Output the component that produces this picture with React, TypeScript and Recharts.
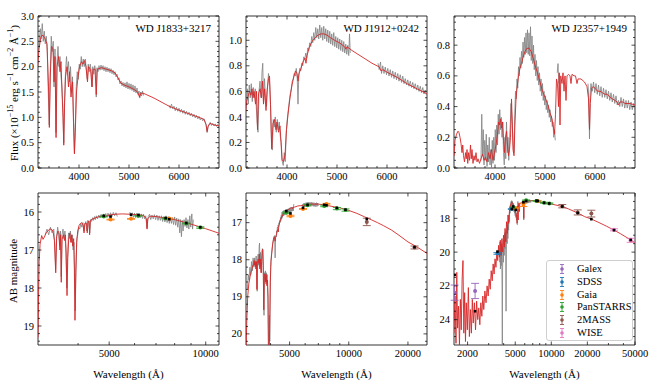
import React from "react";
import { ComposedChart, Line, Scatter, ErrorBar, XAxis, YAxis, ReferenceArea } from "recharts";

type Pt = [number, number | null];
type Phot = [string, number, number, number, number]; // survey, wavelength, mag, error, model mag

const FONT = '"Liberation Serif", "DejaVu Serif", serif';
const RED = "#d62728";
const GREY = "#808080";

const surveyNames = ["Galex", "SDSS", "Gaia", "PanSTARRS", "2MASS", "WISE"];
const surveyColors = ["#9467bd", "#1f77b4", "#ff7f0e", "#2ca02c", "#8c564b", "#e377c2"];

// ---- WD J1833+3217 ----
const j1833FluxModel: Pt[] = [
  [3160, 1.85], [3200, 2.35], [3240, 2.6], [3280, 2.62], [3320, 2.55], [3360, 2.45], [3390, 1.6], [3407, 0.8],
  [3425, 1.8], [3450, 2.4], [3480, 2.35], [3500, 1.7], [3520, 2.2], [3541, 0.6], [3560, 2.0], [3590, 2.2],
  [3620, 1.9], [3640, 2.1], [3660, 1.5], [3680, 1.0], [3695, 0.45], [3710, 1.2], [3730, 1.8], [3760, 2.0],
  [3790, 1.6], [3810, 1.9], [3840, 1.4], [3870, 1.7], [3890, 0.9], [3909, 0.28], [3925, 0.7], [3950, 1.5],
  [3980, 1.8], [4010, 2.0], [4050, 2.1], [4080, 2.05], [4110, 2.12], [4140, 2.0], [4170, 1.7], [4190, 2.0],
  [4230, 1.95], [4260, 1.6], [4280, 1.95], [4320, 1.95], [4345, 1.45], [4365, 1.95], [4450, 1.98], [4550, 1.95],
  [4650, 1.92], [4720, 1.88], [4780, 1.78], [4830, 1.68], [4900, 1.64], [5000, 1.6], [5100, 1.55], [5170, 1.5],
  [5210, 1.4], [5240, 1.48], [5300, 1.47], [5500, 1.38], [5800, 1.22], [6000, 1.14], [6200, 1.07], [6400, 1.0],
  [6500, 0.96], [6540, 0.86], [6562, 0.72], [6580, 0.82], [6620, 0.88], [6700, 0.85], [6800, 0.83],
];
const j1833FluxObs: Pt[] = [
  [3165, 1.9], [3185, 2.3], [3205, 2.5], [3225, 2.75], [3245, 2.55], [3265, 2.85], [3285, 2.5], [3305, 2.7],
  [3325, 2.45], [3345, 2.6], [3365, 2.3], [3385, 1.5], [3405, 0.85], [3425, 1.9], [3445, 2.6], [3465, 2.3],
  [3485, 2.5], [3500, 1.6], [3520, 2.35], [3540, 0.7], [3560, 2.1], [3580, 2.4], [3600, 2.0], [3620, 2.2],
  [3640, 1.8], [3660, 1.6], [3680, 1.1], [3695, 0.5], [3710, 1.3], [3730, 1.9], [3750, 2.2], [3770, 1.9],
  [3790, 2.1], [3810, 1.7], [3830, 2.0], [3850, 1.5], [3870, 1.8], [3890, 1.0], [3908, 0.3], [3925, 0.8],
  [3945, 1.6], [3965, 1.9], [3985, 1.75], [4005, 2.05], [4025, 1.95], [4045, 2.2], [4065, 2.0], [4085, 2.15],
  [4105, 2.0], [4125, 2.15], [4145, 1.95], [4165, 1.75], [4185, 2.05], [4205, 1.9], [4225, 2.05], [4245, 1.9],
  [4260, 1.6], [4275, 2.0], [4295, 1.85], [4315, 2.02], [4335, 1.9], [4345, 1.4], [4360, 1.98], [4380, 1.9],
  [4400, 2.02], [4420, 1.93], [4440, 2.03], [4460, 1.94], [4480, 2.02], [4500, 1.92], [4520, 2.0], [4540, 1.9],
  [4560, 1.99], [4580, 1.9], [4600, 1.97], [4620, 1.88], [4640, 1.96], [4660, 1.86], [4680, 1.93], [4700, 1.84],
  [4720, 1.9], [4740, 1.8], [4760, 1.85], [4780, 1.74], [4800, 1.78], [4820, 1.66], [4840, 1.72], [4860, 1.62],
  [4880, 1.69], [4900, 1.6], [4920, 1.68], [4940, 1.58], [4960, 1.7], [4980, 1.56], [5000, 1.67], [5020, 1.55],
  [5040, 1.66], [5060, 1.53], [5080, 1.64], [5100, 1.5], [5120, 1.62], [5140, 1.48], [5160, 1.58], [5180, 1.45],
  [5200, 1.52], [5215, 1.38], [5230, 1.5], [5250, 1.42], [5270, 1.52], [5290, 1.43], [5500, null],
  [5800, 1.24], [5825, 1.18], [5850, 1.26], [5875, 1.17], [5900, 1.22], [5925, 1.13], [5950, 1.2], [5975, 1.12],
  [6000, 1.18], [6025, 1.1], [6050, 1.16], [6075, 1.08], [6100, 1.14], [6125, 1.06], [6150, 1.12], [6175, 1.05],
  [6200, 1.1], [6225, 1.03], [6250, 1.08], [6275, 1.01], [6300, 1.06], [6325, 0.99], [6350, 1.04], [6375, 0.97],
  [6400, 1.02], [6425, 0.95], [6450, 0.99], [6475, 0.93], [6500, 0.97], [6525, 0.9], [6545, 0.84], [6562, 0.7],
  [6580, 0.8], [6600, 0.86], [6625, 0.9], [6650, 0.84], [6675, 0.88], [6700, 0.83], [6725, 0.87], [6750, 0.82],
  [6775, 0.86], [6800, 0.82],
];
const j1833MagModel: Pt[] = [
  [3000, 19.3], [3012, 18.2], [3025, 17.3], [3045, 16.85], [3080, 16.62], [3110, 16.72], [3140, 16.66], [3180, 16.55],
  [3220, 16.5], [3260, 16.45], [3300, 16.45], [3340, 16.5], [3375, 16.75], [3407, 17.6], [3430, 16.65], [3460, 16.5],
  [3490, 16.55], [3510, 17.0], [3528, 16.6], [3545, 17.85], [3565, 16.72], [3600, 16.6], [3630, 16.75], [3650, 16.6],
  [3672, 17.05], [3695, 18.2], [3715, 17.2], [3740, 16.7], [3770, 16.55], [3800, 16.8], [3822, 16.6], [3850, 16.9],
  [3875, 16.7], [3895, 17.5], [3912, 18.85], [3935, 17.6], [3960, 16.8], [3990, 16.5], [4030, 16.35], [4070, 16.3],
  [4110, 16.28], [4150, 16.35], [4175, 16.55], [4200, 16.3], [4250, 16.3], [4272, 16.55], [4300, 16.25], [4330, 16.24],
  [4345, 16.6], [4365, 16.22], [4450, 16.18], [4550, 16.15], [4650, 16.12], [4780, 16.1], [4860, 16.12], [5000, 16.08],
  [5200, 16.06], [5500, 16.05], [5800, 16.06], [6100, 16.07], [6400, 16.09], [6530, 16.18], [6563, 16.45], [6595, 16.18],
  [6700, 16.11], [7000, 16.12], [7500, 16.16], [8000, 16.2], [8500, 16.26], [9000, 16.32], [9500, 16.38], [10000, 16.44],
  [10500, 16.5], [11000, 16.56],
];
const j1833MagObs: Pt[] = [
  [3160, 16.6], [3200, 16.45], [3240, 16.6], [3280, 16.4], [3320, 16.55], [3360, 16.45], [3385, 16.9], [3405, 17.5],
  [3425, 16.7], [3455, 16.4], [3480, 16.6], [3505, 16.9], [3525, 16.5], [3545, 17.7], [3565, 16.6], [3590, 16.45],
  [3615, 16.7], [3640, 16.5], [3665, 17.1], [3690, 18.0], [3710, 17.2], [3735, 16.55], [3760, 16.7], [3785, 16.5],
  [3810, 16.8], [3835, 16.6], [3860, 17.0], [3885, 16.8], [3905, 17.8], [3920, 18.6], [3940, 17.5], [3965, 16.7],
  [3990, 16.6], [4020, 16.4], [4050, 16.45], [4080, 16.3], [4110, 16.4], [4140, 16.28], [4170, 16.5], [4200, 16.32],
  [4230, 16.25], [4260, 16.5], [4290, 16.22], [4320, 16.3], [4350, 16.55], [4380, 16.2], [4410, 16.25], [4440, 16.15],
  [4470, 16.22], [4500, 16.12], [4530, 16.2], [4560, 16.1], [4600, 16.18], [4640, 16.08], [4680, 16.16], [4720, 16.06],
  [4760, 16.15], [4800, 16.05], [4840, 16.14], [4880, 16.04], [4920, 16.13], [4960, 16.03], [5000, 16.13], [5050, 16.02],
  [5100, 16.12], [5150, 16.01], [5200, 16.1], [5250, 16.02], [5300, 16.12], [5500, null],
  [5800, 16.0], [5850, 16.12], [5900, 16.02], [5950, 16.14], [6000, 16.03], [6050, 16.15], [6100, 16.03], [6150, 16.16],
  [6200, 16.04], [6250, 16.15], [6300, 16.05], [6350, 16.17], [6400, 16.06], [6450, 16.18], [6500, 16.1], [6560, 16.42],
  [6620, 16.12], [6680, 16.06], [6740, 16.2], [6800, 16.08], [6860, 16.18], [6920, 16.07], [6980, 16.2], [7040, 16.08],
  [7100, 16.22], [7160, 16.1], [7220, 16.22], [7280, 16.1], [7340, 16.25], [7400, 16.12], [7460, 16.26], [7520, 16.1],
  [7580, 16.28], [7640, 16.12], [7700, 16.3], [7760, 16.14], [7820, 16.3], [7880, 16.15], [7940, 16.33], [8000, 16.13],
  [8060, 16.35], [8120, 16.16], [8180, 16.4], [8240, 16.18], [8300, 16.55], [8350, 16.2], [8400, 16.65], [8450, 16.22],
  [8500, 16.5], [8560, 16.2], [8620, 16.38], [8680, 16.15], [8740, 16.42], [8800, 16.2], [8860, 16.45], [8920, 16.1],
  [8980, 16.4], [9050, 16.05], [9100, 16.45], [9150, 16.2],
];
const j1833Phot: Phot[] = [
  ["PanSTARRS", 4810, 16.12, 0.01, 16.1], ["Gaia", 5050, 16.2, 0.01, 16.12], ["Gaia", 5850, 16.18, 0.01, 16.07],
  ["PanSTARRS", 6170, 16.1, 0.01, 16.08], ["PanSTARRS", 7500, 16.17, 0.01, 16.16], ["Gaia", 7700, 16.17, 0.01, 16.19],
  ["PanSTARRS", 8700, 16.3, 0.01, 16.29], ["PanSTARRS", 9620, 16.41, 0.02, 16.4],
];

// ---- WD J1912+0242 ----
const j1912FluxModel: Pt[] = [
  [3160, 0.38], [3190, 0.52], [3220, 0.56], [3250, 0.6], [3280, 0.57], [3300, 0.62], [3320, 0.55], [3340, 0.6],
  [3370, 0.5], [3390, 0.6], [3410, 0.3], [3430, 0.58], [3460, 0.62], [3490, 0.55], [3510, 0.68], [3530, 0.5],
  [3550, 0.62], [3580, 0.45], [3600, 0.6], [3630, 0.7], [3650, 0.72], [3670, 0.5], [3695, 0.15], [3720, 0.35],
  [3750, 0.38], [3780, 0.3], [3800, 0.36], [3830, 0.28], [3860, 0.33], [3880, 0.2], [3900, 0.06], [3930, 0.05],
  [3960, 0.1], [3990, 0.3], [4020, 0.42], [4060, 0.55], [4100, 0.65], [4140, 0.72], [4170, 0.76], [4200, 0.74],
  [4220, 0.68], [4240, 0.74], [4280, 0.78], [4320, 0.83], [4360, 0.86], [4380, 0.82], [4400, 0.88], [4450, 0.95],
  [4500, 0.99], [4560, 1.02], [4620, 1.04], [4680, 1.05], [4740, 1.05], [4800, 1.04], [4870, 1.02], [4950, 1.0],
  [5050, 0.98], [5150, 0.95], [5180, 0.93], [5200, 0.95], [5300, 0.92], [5500, 0.87], [5700, 0.82], [5850, 0.79],
  [5880, 0.76], [5920, 0.77], [6000, 0.75], [6200, 0.71], [6400, 0.66], [6600, 0.62], [6800, 0.58],
];
const j1912FluxObs: Pt[] = [
  [3165, 0.42], [3185, 0.5], [3205, 0.62], [3225, 0.5], [3245, 0.65], [3265, 0.55], [3285, 0.66], [3305, 0.52],
  [3325, 0.63], [3345, 0.55], [3365, 0.62], [3385, 0.48], [3405, 0.35], [3420, 0.28], [3440, 0.6], [3460, 0.68],
  [3480, 0.55], [3500, 0.75], [3515, 0.82], [3530, 0.52], [3550, 0.7], [3570, 0.55], [3590, 0.48], [3610, 0.64],
  [3630, 0.74], [3650, 0.68], [3670, 0.5], [3690, 0.18], [3705, 0.14], [3725, 0.38], [3745, 0.32], [3765, 0.4],
  [3785, 0.28], [3805, 0.38], [3825, 0.3], [3845, 0.36], [3865, 0.25], [3885, 0.2], [3905, 0.05], [3925, 0.02],
  [3945, 0.12], [3965, 0.05], [3985, 0.28], [4005, 0.38], [4025, 0.45], [4045, 0.52], [4065, 0.58], [4085, 0.62],
  [4105, 0.68], [4125, 0.7], [4145, 0.74], [4165, 0.72], [4185, 0.78], [4205, 0.7], [4220, 0.5], [4235, 0.72],
  [4255, 0.78], [4275, 0.76], [4295, 0.82], [4315, 0.8], [4335, 0.87], [4355, 0.85], [4375, 0.9], [4395, 0.86],
  [4415, 0.94], [4435, 0.92], [4455, 0.98], [4475, 0.95], [4495, 1.03], [4515, 0.98], [4535, 1.06], [4555, 1.0],
  [4575, 1.1], [4595, 1.02], [4615, 1.09], [4635, 1.01], [4655, 1.12], [4675, 1.02], [4695, 1.1], [4715, 1.0],
  [4735, 1.11], [4755, 1.01], [4775, 1.09], [4795, 0.99], [4815, 1.08], [4835, 0.98], [4855, 1.07], [4875, 0.97],
  [4895, 1.05], [4915, 0.96], [4935, 1.06], [4955, 0.95], [4975, 1.03], [4995, 0.94], [5015, 1.02], [5035, 0.93],
  [5055, 1.01], [5075, 0.92], [5095, 1.0], [5115, 0.91], [5135, 0.99], [5155, 0.9], [5175, 0.97], [5195, 0.89],
  [5215, 0.96], [5235, 0.88], [5250, 1.05], [5265, 0.9], [5500, null],
  [5820, 0.82], [5845, 0.77], [5870, 0.83], [5890, 0.74], [5915, 0.8], [5940, 0.74], [5965, 0.79], [5990, 0.73],
  [6015, 0.78], [6040, 0.72], [6065, 0.77], [6090, 0.71], [6115, 0.76], [6140, 0.7], [6165, 0.75], [6190, 0.69],
  [6215, 0.74], [6240, 0.68], [6265, 0.73], [6290, 0.67], [6315, 0.72], [6340, 0.66], [6365, 0.7], [6390, 0.65],
  [6415, 0.69], [6440, 0.64], [6465, 0.68], [6490, 0.63], [6515, 0.67], [6540, 0.62], [6565, 0.66], [6590, 0.61],
  [6615, 0.65], [6640, 0.6], [6665, 0.64], [6690, 0.59], [6715, 0.63], [6740, 0.58], [6765, 0.61], [6790, 0.57],
];
const j1912MagModel: Pt[] = [
  [3000, 20.5], [3030, 19.6], [3060, 19.0], [3100, 18.65], [3150, 18.45], [3200, 18.3], [3250, 18.15], [3280, 18.15],
  [3300, 18.02], [3320, 18.15], [3340, 18.05], [3370, 18.25], [3390, 18.05], [3410, 18.8], [3430, 18.1], [3460, 17.98],
  [3490, 18.1], [3510, 17.85], [3530, 18.25], [3550, 17.98], [3580, 18.35], [3600, 18.05], [3630, 17.75], [3650, 17.72],
  [3670, 18.15], [3695, 19.35], [3720, 18.45], [3750, 18.38], [3780, 18.6], [3800, 18.4], [3830, 18.7], [3860, 18.55],
  [3880, 19.05], [3900, 20.5], [3930, 20.6], [3960, 19.85], [3990, 18.6], [4020, 18.05], [4060, 17.8], [4100, 17.58],
  [4140, 17.45], [4170, 17.38], [4200, 17.42], [4220, 17.5], [4240, 17.4], [4280, 17.35], [4320, 17.23], [4360, 17.18],
  [4380, 17.25], [4400, 17.12], [4450, 17.0], [4500, 16.92], [4560, 16.85], [4620, 16.78], [4680, 16.73], [4740, 16.7],
  [4800, 16.68], [4870, 16.66], [4950, 16.64], [5050, 16.61], [5150, 16.59], [5180, 16.62], [5200, 16.59], [5300, 16.58],
  [5500, 16.55], [5700, 16.54], [5850, 16.53], [5880, 16.57], [5920, 16.55], [6000, 16.52], [6300, 16.5], [6600, 16.5],
  [7000, 16.5], [7500, 16.52], [8000, 16.55], [9000, 16.6], [10000, 16.67], [11000, 16.75], [12000, 16.84], [13000, 16.92],
  [14000, 17.0], [15000, 17.08], [16500, 17.2], [18000, 17.34], [20000, 17.52], [22000, 17.64], [25000, 17.83],
];
const j1912MagObs: Pt[] = [
  [3050, 18.8], [3080, 18.4], [3110, 18.55], [3140, 18.2], [3170, 18.4], [3200, 18.05], [3230, 18.3], [3260, 17.95],
  [3290, 18.2], [3320, 17.95], [3350, 18.2], [3380, 17.9], [3400, 18.35], [3420, 18.85], [3440, 18.0], [3460, 17.85],
  [3480, 18.15], [3500, 17.65], [3515, 17.55], [3535, 18.2], [3555, 17.8], [3575, 18.15], [3595, 18.35], [3615, 17.9],
  [3635, 17.7], [3655, 17.75], [3675, 18.2], [3690, 19.2], [3705, 19.5], [3725, 18.35], [3745, 18.55], [3765, 18.3],
  [3785, 18.65], [3805, 18.35], [3825, 18.6], [3845, 18.4], [3865, 18.75], [3885, 19.0], [3905, 20.1], [3925, 20.35],
  [3945, 19.5], [3965, 20.2], [3985, 18.6], [4005, 18.2], [4025, 18.0], [4045, 17.85], [4065, 17.75], [4085, 17.65],
  [4105, 17.55], [4125, 17.5], [4145, 17.42], [4165, 17.45], [4185, 17.35], [4205, 17.5], [4220, 17.95], [4235, 17.45],
  [4255, 17.35], [4275, 17.38], [4295, 17.22], [4315, 17.26], [4335, 17.12], [4355, 17.16], [4375, 17.06], [4395, 17.12],
  [4415, 17.0], [4435, 17.04], [4455, 16.94], [4475, 16.99], [4495, 16.86], [4515, 16.94], [4535, 16.8], [4555, 16.9],
  [4575, 16.72], [4600, 16.86], [4625, 16.7], [4650, 16.82], [4675, 16.67], [4700, 16.8], [4725, 16.66], [4750, 16.78],
  [4775, 16.65], [4800, 16.77], [4830, 16.64], [4860, 16.76], [4890, 16.63], [4920, 16.74], [4950, 16.62], [4980, 16.73],
  [5010, 16.6], [5040, 16.72], [5070, 16.59], [5100, 16.7], [5130, 16.6], [5160, 16.69], [5190, 16.58], [5220, 16.68],
  [5250, 16.5], [5500, null],
  [5820, 16.5], [5860, 16.58], [5900, 16.48], [5940, 16.57], [5980, 16.47], [6020, 16.56], [6060, 16.46], [6100, 16.55],
  [6150, 16.45], [6200, 16.55], [6250, 16.45], [6300, 16.54], [6350, 16.45], [6400, 16.55], [6450, 16.45], [6500, 16.55],
  [6550, 16.46], [6600, 16.56], [6650, 16.46], [6700, 16.56], [6750, 16.47], [6800, 16.57], [6850, 16.46], [6900, 16.56],
  [6950, 16.47], [7000, 16.55],
];
const j1912Phot: Phot[] = [
  ["PanSTARRS", 4810, 16.73, 0.02, 16.69], ["Gaia", 5050, 16.82, 0.02, 16.75], ["Gaia", 5850, 16.63, 0.01, 16.6],
  ["PanSTARRS", 6170, 16.53, 0.02, 16.52], ["PanSTARRS", 7500, 16.55, 0.02, 16.52], ["Gaia", 7700, 16.5, 0.02, 16.53],
  ["PanSTARRS", 8700, 16.62, 0.03, 16.6], ["PanSTARRS", 9620, 16.66, 0.03, 16.65],
  ["2MASS", 12350, 16.98, 0.1, 16.9], ["2MASS", 21600, 17.67, 0.04, 17.66],
];

// ---- WD J2357+1949 ----
const j2357FluxModel: Pt[] = [
  [3160, 0.1], [3180, 0.08], [3200, 0.18], [3230, 0.22], [3260, 0.24], [3280, 0.23], [3300, 0.2], [3320, 0.16],
  [3340, 0.1], [3355, 0.15], [3370, 0.08], [3390, 0.04], [3410, 0.1], [3425, 0.06], [3440, 0.12], [3455, 0.03],
  [3470, 0.1], [3490, 0.05], [3510, 0.15], [3525, 0.06], [3540, 0.12], [3560, 0.03], [3580, 0.08], [3600, 0.05],
  [3620, 0.1], [3640, 0.04], [3660, 0.06], [3690, 0.03], [3720, 0.06], [3750, 0.09], [3780, 0.05], [3810, 0.07],
  [3840, 0.04], [3870, 0.1], [3900, 0.06], [3930, 0.12], [3960, 0.05], [3990, 0.1], [4020, 0.15], [4050, 0.22],
  [4070, 0.3], [4090, 0.28], [4110, 0.32], [4130, 0.26], [4150, 0.3], [4170, 0.18], [4190, 0.1], [4210, 0.2],
  [4230, 0.24], [4250, 0.15], [4270, 0.08], [4290, 0.12], [4310, 0.2], [4330, 0.45], [4345, 0.3], [4360, 0.12],
  [4380, 0.08], [4400, 0.3], [4420, 0.45], [4440, 0.52], [4470, 0.6], [4500, 0.65], [4530, 0.68], [4560, 0.72],
  [4600, 0.76], [4640, 0.78], [4680, 0.78], [4720, 0.76], [4760, 0.72], [4800, 0.67], [4850, 0.62], [4900, 0.56],
  [4950, 0.5], [5000, 0.46], [5050, 0.42], [5100, 0.36], [5140, 0.32], [5170, 0.26], [5190, 0.22], [5210, 0.35],
  [5230, 0.58], [5250, 0.55], [5270, 0.4], [5285, 0.62], [5300, 0.28], [5315, 0.6], [5340, 0.55], [5360, 0.62],
  [5380, 0.5], [5400, 0.6], [5420, 0.44], [5440, 0.6], [5470, 0.61], [5500, 0.6], [5520, 0.55], [5540, 0.61],
  [5580, 0.6], [5610, 0.6], [5640, 0.55], [5660, 0.58], [5720, 0.58], [5790, 0.56], [5840, 0.53], [5870, 0.45],
  [5890, 0.25], [5905, 0.42], [5930, 0.52], [5960, 0.53], [6000, 0.52], [6050, 0.5], [6100, 0.5], [6150, 0.49],
  [6200, 0.48], [6250, 0.48], [6300, 0.46], [6350, 0.45], [6400, 0.44], [6440, 0.43], [6470, 0.41], [6500, 0.43],
  [6560, 0.43], [6600, 0.42], [6700, 0.42], [6800, 0.41],
];
const j2357FluxObs: Pt[] = [
  [3720, 0.05], [3735, 0.35], [3750, 0.08], [3765, 0.25], [3780, 0.02], [3795, 0.18], [3810, 0.05], [3825, 0.22],
  [3840, 0.01], [3855, 0.15], [3870, 0.04], [3885, 0.2], [3900, 0.02], [3915, 0.12], [3930, 0.0], [3945, 0.18],
  [3960, 0.03], [3975, 0.2], [3990, 0.05], [4005, 0.25], [4020, 0.1], [4035, 0.28], [4050, 0.15], [4065, 0.35],
  [4080, 0.22], [4095, 0.38], [4110, 0.25], [4125, 0.33], [4140, 0.2], [4155, 0.3], [4170, 0.1], [4185, 0.02],
  [4200, 0.2], [4215, 0.06], [4230, 0.3], [4245, 0.1], [4260, 0.2], [4275, 0.05], [4290, 0.18], [4305, 0.28],
  [4320, 0.42], [4335, 0.35], [4350, 0.25], [4365, 0.15], [4380, 0.1], [4395, 0.35], [4410, 0.5], [4425, 0.45],
  [4440, 0.58], [4455, 0.52], [4470, 0.66], [4485, 0.6], [4500, 0.72], [4515, 0.65], [4530, 0.76], [4545, 0.68],
  [4560, 0.82], [4575, 0.72], [4590, 0.85], [4605, 0.74], [4620, 0.88], [4635, 0.75], [4650, 0.9], [4665, 0.74],
  [4680, 0.88], [4695, 0.73], [4710, 0.92], [4725, 0.7], [4740, 0.86], [4755, 0.68], [4770, 0.8], [4785, 0.64],
  [4800, 0.74], [4815, 0.6], [4830, 0.7], [4845, 0.57], [4860, 0.66], [4875, 0.54], [4890, 0.62], [4905, 0.5],
  [4920, 0.58], [4935, 0.47], [4950, 0.55], [4965, 0.44], [4980, 0.5], [4995, 0.41], [5010, 0.47], [5025, 0.38],
  [5040, 0.44], [5055, 0.36], [5070, 0.41], [5085, 0.33], [5100, 0.38], [5115, 0.3], [5130, 0.34], [5145, 0.27],
  [5160, 0.3], [5175, 0.2], [5190, 0.25], [5205, 0.18], [5225, null], [5245, 0.62], [5260, 0.68], [5275, 0.55],
  [5500, null],
  [5860, 0.55], [5875, 0.45], [5890, 0.19], [5905, 0.5], [5920, 0.55], [5945, 0.5], [5970, 0.56], [5995, 0.49],
  [6020, 0.55], [6045, 0.48], [6070, 0.54], [6095, 0.47], [6120, 0.53], [6145, 0.46], [6170, 0.52], [6195, 0.46],
  [6220, 0.51], [6245, 0.45], [6270, 0.5], [6295, 0.44], [6320, 0.49], [6345, 0.43], [6370, 0.48], [6395, 0.42],
  [6420, 0.47], [6445, 0.41], [6470, 0.44], [6495, 0.4], [6520, 0.46], [6545, 0.4], [6570, 0.45], [6595, 0.39],
  [6620, 0.44], [6645, 0.39], [6670, 0.44], [6695, 0.38], [6720, 0.43], [6745, 0.38], [6770, 0.42], [6795, 0.38],
];
const j2357MagModel: Pt[] = [
  [1540, 24.8], [1570, 22.6], [1600, 25.4], [1625, 21.2], [1650, 24.5], [1680, 23.2], [1710, 25.5], [1740, 22.8],
  [1770, 24.6], [1800, 21.6], [1830, 20.5], [1860, 24.8], [1890, 22.4], [1920, 25.3], [1950, 23.0], [1990, 24.6],
  [2030, 22.1], [2070, 25.0], [2110, 23.4], [2150, 24.8], [2190, 22.8], [2230, 24.2], [2280, 23.0], [2330, 24.6],
  [2380, 22.9], [2430, 24.0], [2480, 23.3], [2530, 24.3], [2580, 23.0], [2630, 23.8], [2680, 22.6], [2730, 23.4],
  [2790, 22.3], [2850, 23.0], [2910, 22.0], [2970, 22.6], [3030, 21.6], [3090, 22.2], [3150, 21.1], [3210, 21.7],
  [3270, 20.7], [3330, 21.3], [3390, 20.4], [3450, 20.9], [3510, 20.0], [3570, 20.5], [3630, 19.6], [3690, 20.3],
  [3750, 19.3], [3810, 20.2], [3870, 19.2], [3930, 20.0], [3990, 19.0], [4050, 19.7], [4110, 18.6], [4170, 19.4],
  [4230, 18.2], [4290, 18.9], [4350, 17.8], [4410, 18.3], [4470, 17.6], [4530, 17.35], [4600, 17.15], [4680, 17.05],
  [4760, 17.1], [4840, 17.25], [4920, 17.4], [5000, 17.55], [5080, 17.7], [5150, 17.95], [5190, 18.3], [5225, 17.25],
  [5260, 17.3], [5290, 18.1], [5320, 17.2], [5370, 17.1], [5420, 17.6], [5460, 17.1], [5550, 17.1], [5650, 17.05],
  [5800, 17.05], [5870, 17.3], [5890, 18.0], [5910, 17.3], [6000, 17.0], [6300, 16.97], [6700, 16.95], [7200, 16.95],
  [8000, 17.05], [9000, 17.1], [10000, 17.15], [12300, 17.3], [14000, 17.45], [16600, 17.68], [19000, 17.9], [21900, 18.06],
  [25000, 18.25], [29000, 18.47], [33400, 18.7], [38000, 18.92], [43000, 19.15], [50000, 19.45],
];
const j2357MagObs: Pt[] = [
  [3700, 20.6], [3730, 19.4], [3760, 21.0], [3790, 19.8], [3820, 20.8], [3850, 19.5], [3880, 22.0], [3900, 25.5],
  [3920, 21.0], [3950, 19.8], [3980, 20.6], [4010, 19.3], [4040, 20.2], [4070, 18.9], [4100, 19.8], [4130, 18.8],
  [4160, 19.6], [4190, 23.5], [4220, 19.4], [4250, 18.7], [4280, 19.5], [4310, 18.4], [4340, 19.2], [4370, 18.2],
  [4400, 18.7], [4430, 17.8], [4460, 18.2], [4490, 17.5], [4520, 17.7], [4550, 17.2], [4580, 17.45], [4610, 17.0],
  [4640, 17.3], [4670, 16.95], [4700, 17.25], [4730, 17.0], [4760, 17.35], [4790, 17.1], [4820, 17.45], [4850, 17.2],
  [4880, 17.6], [4910, 17.3], [4940, 17.7], [4970, 17.45], [5000, 17.85], [5030, 17.55], [5060, 17.95], [5090, 17.7],
  [5120, 18.1], [5150, 17.85], [5180, 18.3], [5210, 18.4], [5228, null], [5245, 17.2], [5260, 17.0], [5275, 17.3],
  [5500, null],
  [5860, 17.1], [5880, 17.5], [5890, 18.1], [5905, 17.2], [5940, 17.0], [5980, 17.15], [6020, 16.98], [6060, 17.12],
  [6100, 16.97], [6150, 17.1], [6200, 16.96], [6250, 17.1], [6300, 16.95], [6350, 17.08], [6400, 16.95], [6450, 17.08],
  [6500, 16.94], [6560, 17.06], [6620, 16.94], [6680, 17.06], [6740, 16.95], [6800, 17.05],
];
const j2357Phot: Phot[] = [
  ["Galex", 1560, 22.4, 0.45, 21.35], ["Galex", 2310, 22.3, 0.45, 23.5], ["SDSS", 3551, 20.08, 0.05, 19.97],
  ["SDSS", 4686, 17.45, 0.02, 17.45], ["PanSTARRS", 4810, 17.35, 0.02, 17.3], ["Gaia", 5050, 17.4, 0.03, 17.5],
  ["Gaia", 5850, 17.2, 0.1, 17.05], ["PanSTARRS", 6170, 16.93, 0.02, 16.97], ["PanSTARRS", 7500, 16.97, 0.02, 16.96],
  ["Gaia", 7700, 16.98, 0.03, 16.97], ["PanSTARRS", 8700, 17.08, 0.03, 17.08], ["PanSTARRS", 9620, 17.12, 0.03, 17.12],
  ["2MASS", 12350, 17.28, 0.1, 17.3], ["2MASS", 16620, 17.65, 0.15, 17.68], ["2MASS", 21600, 17.72, 0.2, 18.05],
  ["WISE", 33400, 18.68, 0.06, 18.7], ["WISE", 46000, 19.3, 0.12, 19.28],
];

// ---- axis ticks ----
const topXMajor = [4000, 5000, 6000];
const topXMinor = [3200, 3400, 3600, 3800, 4200, 4400, 4600, 4800, 5200, 5400, 5600, 5800, 6200, 6400, 6600];
const j1833YMajor = [0, 0.5, 1, 1.5, 2, 2.5, 3];
const j1833YMinor = [0.1, 0.2, 0.3, 0.4, 0.6, 0.7, 0.8, 0.9, 1.1, 1.2, 1.3, 1.4, 1.6, 1.7, 1.8, 1.9, 2.1, 2.2, 2.3, 2.4, 2.6, 2.7, 2.8, 2.9];
const j1912YMajor = [0, 0.2, 0.4, 0.6, 0.8, 1.0];
const j1912YMinor = [0.05, 0.1, 0.15, 0.25, 0.3, 0.35, 0.45, 0.5, 0.55, 0.65, 0.7, 0.75, 0.85, 0.9, 0.95, 1.05, 1.1, 1.15];
const j2357YMajor = [0, 0.2, 0.4, 0.6, 0.8];
const j2357YMinor = [0.05, 0.1, 0.15, 0.25, 0.3, 0.35, 0.45, 0.5, 0.55, 0.65, 0.7, 0.75, 0.85, 0.9, 0.95];
const j1833XMajor = [5000, 10000];
const j1833XMinor = [4000, 6000, 7000, 8000, 9000];
const j1912XMajor = [5000, 10000, 20000];
const j1912XMinor = [4000, 6000, 7000, 8000, 9000];
const j2357XMajor = [2000, 5000, 10000, 20000, 50000];
const j2357XMinor = [3000, 4000, 6000, 7000, 8000, 9000, 30000, 40000];
const j1833MagMajor = [16, 17, 18, 19];
const j1833MagMinor = [15.6, 15.8, 16.2, 16.4, 16.6, 16.8, 17.2, 17.4, 17.6, 17.8, 18.2, 18.4, 18.6, 18.8, 19.2, 19.4];
const j1912MagMajor = [17, 18, 19, 20];
const j1912MagMinor = [16.4, 16.6, 16.8, 17.2, 17.4, 17.6, 17.8, 18.2, 18.4, 18.6, 18.8, 19.2, 19.4, 19.6, 19.8, 20.2];
const j2357MagMajor = [18, 20, 22, 24];
const j2357MagMinor = [17, 17.5, 18.5, 19, 19.5, 20.5, 21, 21.5, 22.5, 23, 23.5, 24.5, 25];

const PLOT_W = 181;
const PLOT_H = 152;
const M_LEFT = 40;
const M_TOP = 10;
const M_RIGHT = 22;

const rows = (pts: Pt[]) => pts.map(([x, y]) => ({ x, y }));

function makeXTick(majors: number[]) {
  return (props: any) => {
    const { x, y, payload } = props;
    const major = majors.includes(payload.value);
    const len = major ? 3.5 : 2;
    return (
      <g>
        <line x1={x} x2={x} y1={y} y2={y - len} stroke="#000" strokeWidth={0.7} />
        <line x1={x} x2={x} y1={y - PLOT_H} y2={y - PLOT_H + len} stroke="#000" strokeWidth={0.7} />
        {major && (
          <text x={x} y={y + 12} textAnchor="middle" fontSize={10.5} fontFamily={FONT} fill="#000">
            {String(payload.value)}
          </text>
        )}
      </g>
    );
  };
}

function makeYTick(majors: number[], fmt: (v: number) => string) {
  return (props: any) => {
    const { x, y, payload } = props;
    const major = majors.includes(payload.value);
    const len = major ? 3.5 : 2;
    return (
      <g>
        <line x1={x} x2={x + len} y1={y} y2={y} stroke="#000" strokeWidth={0.7} />
        <line x1={x + PLOT_W} x2={x + PLOT_W - len} y1={y} y2={y} stroke="#000" strokeWidth={0.7} />
        {major && (
          <text x={x - 4} y={y + 3.6} textAnchor="end" fontSize={10.5} fontFamily={FONT} fill="#000">
            {fmt(payload.value)}
          </text>
        )}
      </g>
    );
  };
}

type PanelProps = {
  left: number;
  top: number;
  xDomain: [number, number];
  yDomain: [number, number];
  log?: boolean;
  reversed?: boolean;
  xMajor: number[];
  xMinor: number[];
  yMajor: number[];
  yMinor: number[];
  yFmt: (v: number) => string;
  obs: Pt[];
  model: Pt[];
  phot?: Phot[];
  title?: string;
  xLabel?: string;
};

function Panel(p: PanelProps) {
  const xAxisH = p.xLabel ? 42 : 28;
  const width = M_LEFT + PLOT_W + M_RIGHT;
  const height = M_TOP + PLOT_H + xAxisH;
  const phot = p.phot || [];
  return (
    <div style={{ position: "absolute", left: p.left - M_LEFT, top: p.top - M_TOP }}>
      <ComposedChart width={width} height={height} margin={{ top: M_TOP, right: M_RIGHT, left: 0, bottom: 0 }}>
        <XAxis
          dataKey="x"
          type="number"
          scale={p.log ? "log" : "linear"}
          domain={p.xDomain}
          allowDataOverflow
          ticks={[...p.xMajor, ...p.xMinor]}
          interval={0}
          tick={makeXTick(p.xMajor)}
          tickLine={false}
          axisLine={false}
          tickSize={0}
          tickMargin={0}
          height={xAxisH}
          label={
            p.xLabel
              ? { value: p.xLabel, position: "insideBottom", offset: 9, fontSize: 11, fontFamily: FONT, fill: "#000" }
              : undefined
          }
        />
        <YAxis
          type="number"
          domain={p.yDomain}
          reversed={p.reversed}
          allowDataOverflow
          ticks={[...p.yMajor, ...p.yMinor]}
          interval={0}
          tick={makeYTick(p.yMajor, p.yFmt)}
          tickLine={false}
          axisLine={false}
          tickSize={0}
          tickMargin={0}
          width={M_LEFT}
        />
        <Line data={rows(p.obs)} dataKey="y" stroke={GREY} strokeWidth={0.8} dot={false} connectNulls={false} isAnimationActive={false} />
        <Line data={rows(p.model)} dataKey="y" stroke={RED} strokeWidth={0.9} dot={false} connectNulls={false} isAnimationActive={false} />
        {surveyNames.map((name, i) => {
          const pts = phot.filter((r) => r[0] === name).map((r) => ({ x: r[1], y: r[2], e: r[3] }));
          if (!pts.length) return null;
          const c = surveyColors[i];
          return (
            <Scatter
              key={name}
              data={pts}
              dataKey="y"
              isAnimationActive={false}
              shape={(s: any) => <circle cx={s.cx} cy={s.cy} r={2} fill={c} />}
            >
              <ErrorBar dataKey="e" direction="y" width={4} stroke={c} strokeWidth={0.9} />
            </Scatter>
          );
        })}
        {phot.length > 0 && (
          <Scatter
            data={phot.map((r) => ({ x: r[1], y: r[4] }))}
            dataKey="y"
            isAnimationActive={false}
            shape={(s: any) => <rect x={s.cx - 1.3} y={s.cy - 1.3} width={2.6} height={2.6} fill="#000" />}
          />
        )}
        <ReferenceArea
          x1={p.xDomain[0]}
          x2={p.xDomain[1]}
          y1={p.yDomain[0]}
          y2={p.yDomain[1]}
          fill="none"
          stroke="#000"
          strokeWidth={0.8}
          label={
            p.title
              ? { value: p.title, position: "insideTopRight", offset: 8, fontSize: 11, fontFamily: FONT, fill: "#000" }
              : undefined
          }
        />
      </ComposedChart>
    </div>
  );
}

function SurveyLegend() {
  return (
    <div
      style={{
        position: "absolute",
        left: 546,
        top: 260,
        width: 87,
        height: 81,
        boxSizing: "border-box",
        border: "1px solid #cfcfcf",
        borderRadius: 3,
        background: "rgba(255,255,255,0.85)",
        fontFamily: FONT,
        fontSize: 10.5,
      }}
    >
      {surveyNames.map((name, i) => {
        const c = surveyColors[i];
        return (
          <div key={name} style={{ position: "absolute", left: 0, top: 2 + i * 12.7, height: 12.7, display: "flex", alignItems: "center" }}>
            <svg width={30} height={12}>
              <line x1={15} x2={15} y1={1.5} y2={10.5} stroke={c} strokeWidth={0.9} />
              <line x1={13} x2={17} y1={1.5} y2={1.5} stroke={c} strokeWidth={0.9} />
              <line x1={13} x2={17} y1={10.5} y2={10.5} stroke={c} strokeWidth={0.9} />
              <circle cx={15} cy={6} r={1.8} fill={c} />
            </svg>
            <span style={{ lineHeight: "12px" }}>{name}</span>
          </div>
        );
      })}
    </div>
  );
}

const f1 = (v: number) => v.toFixed(1);
const f0 = (v: number) => String(v);

export default function App() {
  return (
    <div style={{ position: "absolute", left: 0, top: 0, width: 660, height: 385, background: "#fff", fontFamily: FONT }}>
      <Panel left={38} top={16} xDomain={[3180, 6800]} yDomain={[0, 3]} xMajor={topXMajor} xMinor={topXMinor}
        yMajor={j1833YMajor} yMinor={j1833YMinor} yFmt={f1} obs={j1833FluxObs} model={j1833FluxModel} title="WD J1833+3217" />
      <Panel left={246} top={16} xDomain={[3180, 6800]} yDomain={[0, 1.19]} xMajor={topXMajor} xMinor={topXMinor}
        yMajor={j1912YMajor} yMinor={j1912YMinor} yFmt={f1} obs={j1912FluxObs} model={j1912FluxModel} title="WD J1912+0242" />
      <Panel left={454} top={16} xDomain={[3180, 6800]} yDomain={[0, 0.99]} xMajor={topXMajor} xMinor={topXMinor}
        yMajor={j2357YMajor} yMinor={j2357YMinor} yFmt={f1} obs={j2357FluxObs} model={j2357FluxModel} title="WD J2357+1949" />

      <Panel left={38} top={193} log reversed xDomain={[3000, 11000]} yDomain={[15.5, 19.5]} xMajor={j1833XMajor} xMinor={j1833XMinor}
        yMajor={j1833MagMajor} yMinor={j1833MagMinor} yFmt={f0} obs={j1833MagObs} model={j1833MagModel} phot={j1833Phot} xLabel="Wavelength (Å)" />
      <Panel left={246} top={193} log reversed xDomain={[3000, 25000]} yDomain={[16.2, 20.3]} xMajor={j1912XMajor} xMinor={j1912XMinor}
        yMajor={j1912MagMajor} yMinor={j1912MagMinor} yFmt={f0} obs={j1912MagObs} model={j1912MagModel} phot={j1912Phot} xLabel="Wavelength (Å)" />
      <Panel left={454} top={193} log reversed xDomain={[1540, 50000]} yDomain={[16.5, 25.5]} xMajor={j2357XMajor} xMinor={j2357XMinor}
        yMajor={j2357MagMajor} yMinor={j2357MagMinor} yFmt={f0} obs={j2357MagObs} model={j2357MagModel} phot={j2357Phot} xLabel="Wavelength (Å)" />

      <SurveyLegend />

      <div style={{ position: "absolute", left: 13, top: 93, transform: "translate(-50%, -50%) rotate(-90deg)", whiteSpace: "nowrap", fontSize: 11 }}>
        Flux (×10<sup style={{ fontSize: 8 }}>−15</sup> erg s<sup style={{ fontSize: 8 }}>−1</sup> cm<sup style={{ fontSize: 8 }}>−2</sup> Å<sup style={{ fontSize: 8 }}>−1</sup>)
      </div>
      <div style={{ position: "absolute", left: 13, top: 271, transform: "translate(-50%, -50%) rotate(-90deg)", whiteSpace: "nowrap", fontSize: 11 }}>
        AB magnitude
      </div>
    </div>
  );
}
